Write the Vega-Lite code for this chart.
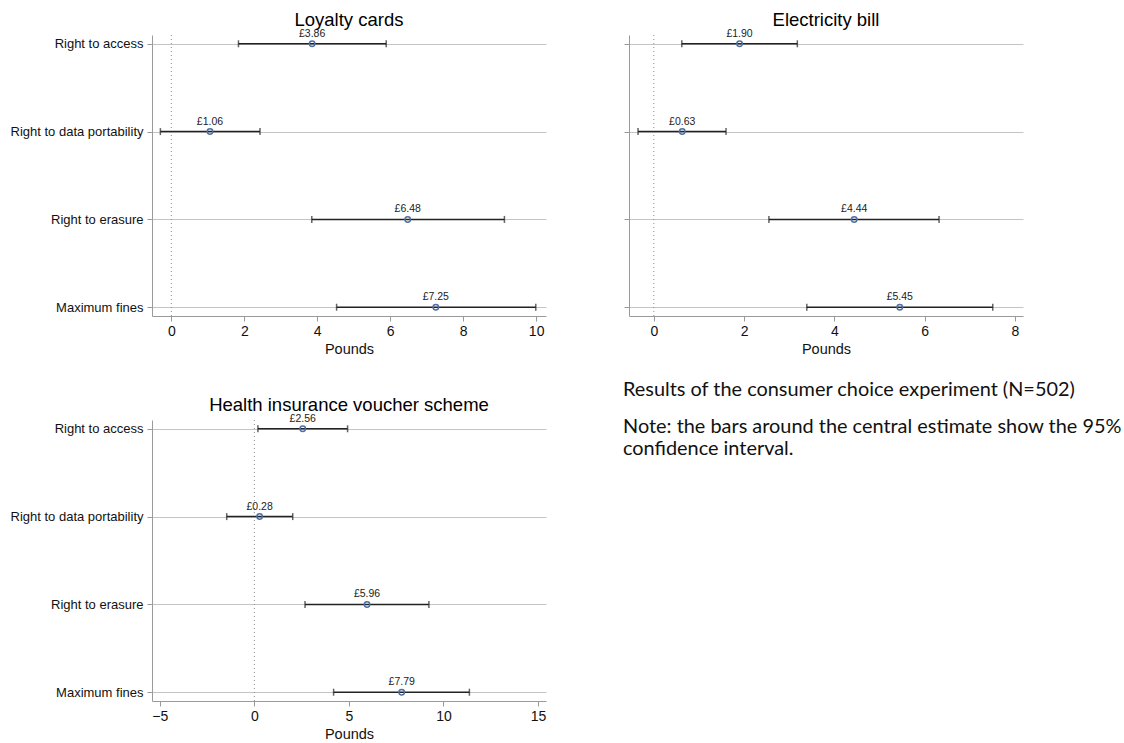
{
  "$schema": "https://vega.github.io/schema/vega-lite/v6.json",
  "background": "white",
  "padding": {"left": 10, "top": 10, "right": 0, "bottom": 0},
  "config": {
    "font": "Liberation Sans",
    "view": {"stroke": null},
    "locale": {"number": {"decimal": ".", "thousands": ",", "grouping": [3], "currency": ["£", ""]}},
    "title": {"fontSize": 18.5, "fontWeight": "normal", "color": "#000000", "offset": -0.5},
    "axis": {"domainColor": "#9a9a9a", "tickColor": "#9a9a9a", "labelColor": "#111111", "titleColor": "#111111", "tickSize": 5}
  },
  "datasets": {
    "est": [
      {"panel": "Loyalty cards", "attribute": "Right to access", "est": 3.86, "lo": 1.84, "hi": 5.89},
      {"panel": "Loyalty cards", "attribute": "Right to data portability", "est": 1.06, "lo": -0.30, "hi": 2.43},
      {"panel": "Loyalty cards", "attribute": "Right to erasure", "est": 6.48, "lo": 3.85, "hi": 9.13},
      {"panel": "Loyalty cards", "attribute": "Maximum fines", "est": 7.25, "lo": 4.53, "hi": 9.99},
      {"panel": "Electricity bill", "attribute": "Right to access", "est": 1.90, "lo": 0.62, "hi": 3.18},
      {"panel": "Electricity bill", "attribute": "Right to data portability", "est": 0.63, "lo": -0.35, "hi": 1.60},
      {"panel": "Electricity bill", "attribute": "Right to erasure", "est": 4.44, "lo": 2.55, "hi": 6.32},
      {"panel": "Electricity bill", "attribute": "Maximum fines", "est": 5.45, "lo": 3.39, "hi": 7.51},
      {"panel": "Health insurance voucher scheme", "attribute": "Right to access", "est": 2.56, "lo": 0.19, "hi": 4.93},
      {"panel": "Health insurance voucher scheme", "attribute": "Right to data portability", "est": 0.28, "lo": -1.46, "hi": 2.03},
      {"panel": "Health insurance voucher scheme", "attribute": "Right to erasure", "est": 5.96, "lo": 2.68, "hi": 9.23},
      {"panel": "Health insurance voucher scheme", "attribute": "Maximum fines", "est": 7.79, "lo": 4.19, "hi": 11.37}
    ],
    "notes": [
      {"para": 1, "text": "Results of the consumer choice experiment (N=502)"},
      {"para": 2, "text": "Note: the bars around the central estimate show the 95%\nconfidence interval."}
    ]
  },
  "bounds": "flush",
  "columns": 2,
  "spacing": {"row": 104, "column": 83},
  "concat": [
    {
      "width": 394, "height": 281,
      "title": "Loyalty cards",
      "data": {"name": "est"},
      "transform": [{"filter": "datum.panel === 'Loyalty cards'"}],
      "layer": [
        {
          "transform": [{"filter": "datum.attribute === 'Maximum fines'"}],
          "mark": {"type": "rule", "color": "#8c8c8c", "strokeDash": [1, 3], "strokeWidth": 1},
          "encoding": {"x": {"datum": 0, "type": "quantitative", "title": "Pounds", "scale": {"domain": [-0.53, 10.27], "nice": false, "zero": false}}}
        },
        {
          "mark": {"type": "rule", "color": "#222222", "strokeWidth": 1.5},
          "encoding": {
            "y": {"field": "attribute", "type": "nominal", "title": null, "sort": ["Right to access", "Right to data portability", "Right to erasure", "Maximum fines"], "scale": {"type": "point", "padding": 0.1},
                  "axis": {"labelFontSize": 13, "labelPadding": 4, "grid": true, "gridColor": "#c4c4c4"}},
            "x": {"field": "lo", "type": "quantitative", "title": "Pounds", "scale": {"domain": [-0.53, 10.27], "nice": false, "zero": false},
                  "axis": {"values": [0, 2, 4, 6, 8, 10], "labelFontSize": 14, "titleFontSize": 14.5, "titleFontWeight": "normal", "grid": false, "labelPadding": 3, "titlePadding": 4, "labelFlush": false}},
            "x2": {"field": "hi"}
          }
        },
        {
          "mark": {"type": "tick", "color": "#222222", "thickness": 1.5, "size": 7},
          "encoding": {
            "y": {"field": "attribute", "type": "nominal", "title": null, "sort": ["Right to access", "Right to data portability", "Right to erasure", "Maximum fines"], "scale": {"type": "point", "padding": 0.1}},
            "x": {"field": "lo", "type": "quantitative", "title": "Pounds", "scale": {"domain": [-0.53, 10.27], "nice": false, "zero": false}}
          }
        },
        {
          "mark": {"type": "tick", "color": "#222222", "thickness": 1.5, "size": 7},
          "encoding": {
            "y": {"field": "attribute", "type": "nominal", "title": null, "sort": ["Right to access", "Right to data portability", "Right to erasure", "Maximum fines"], "scale": {"type": "point", "padding": 0.1}},
            "x": {"field": "hi", "type": "quantitative", "title": "Pounds", "scale": {"domain": [-0.53, 10.27], "nice": false, "zero": false}}
          }
        },
        {
          "mark": {"type": "point", "shape": "circle", "filled": false, "stroke": "#4f6fa3", "strokeWidth": 1.5, "size": 30, "opacity": 1},
          "encoding": {
            "y": {"field": "attribute", "type": "nominal", "title": null, "sort": ["Right to access", "Right to data portability", "Right to erasure", "Maximum fines"], "scale": {"type": "point", "padding": 0.1}},
            "x": {"field": "est", "type": "quantitative", "title": "Pounds", "scale": {"domain": [-0.53, 10.27], "nice": false, "zero": false}}
          }
        },
        {
          "mark": {"type": "text", "fontSize": 10.5, "dy": -7, "baseline": "alphabetic", "color": "#222222"},
          "encoding": {
            "y": {"field": "attribute", "type": "nominal", "title": null, "sort": ["Right to access", "Right to data portability", "Right to erasure", "Maximum fines"], "scale": {"type": "point", "padding": 0.1}},
            "x": {"field": "est", "type": "quantitative", "title": "Pounds", "scale": {"domain": [-0.53, 10.27], "nice": false, "zero": false}},
            "text": {"field": "est", "type": "quantitative", "format": "$.2f"}
          }
        }
      ]
    },
    {
      "width": 394, "height": 281,
      "title": "Electricity bill",
      "data": {"name": "est"},
      "transform": [{"filter": "datum.panel === 'Electricity bill'"}],
      "layer": [
        {
          "transform": [{"filter": "datum.attribute === 'Maximum fines'"}],
          "mark": {"type": "rule", "color": "#8c8c8c", "strokeDash": [1, 3], "strokeWidth": 1},
          "encoding": {"x": {"datum": 0, "type": "quantitative", "title": "Pounds", "scale": {"domain": [-0.55, 8.18], "nice": false, "zero": false}}}
        },
        {
          "mark": {"type": "rule", "color": "#222222", "strokeWidth": 1.5},
          "encoding": {
            "y": {"field": "attribute", "type": "nominal", "title": null, "sort": ["Right to access", "Right to data portability", "Right to erasure", "Maximum fines"], "scale": {"type": "point", "padding": 0.1},
                  "axis": {"labels": false, "grid": true, "gridColor": "#c4c4c4"}},
            "x": {"field": "lo", "type": "quantitative", "title": "Pounds", "scale": {"domain": [-0.55, 8.18], "nice": false, "zero": false},
                  "axis": {"values": [0, 2, 4, 6, 8], "labelFontSize": 14, "titleFontSize": 14.5, "titleFontWeight": "normal", "grid": false, "labelPadding": 3, "titlePadding": 4, "labelFlush": false}},
            "x2": {"field": "hi"}
          }
        },
        {
          "mark": {"type": "tick", "color": "#222222", "thickness": 1.5, "size": 7},
          "encoding": {
            "y": {"field": "attribute", "type": "nominal", "title": null, "sort": ["Right to access", "Right to data portability", "Right to erasure", "Maximum fines"], "scale": {"type": "point", "padding": 0.1}},
            "x": {"field": "lo", "type": "quantitative", "title": "Pounds", "scale": {"domain": [-0.55, 8.18], "nice": false, "zero": false}}
          }
        },
        {
          "mark": {"type": "tick", "color": "#222222", "thickness": 1.5, "size": 7},
          "encoding": {
            "y": {"field": "attribute", "type": "nominal", "title": null, "sort": ["Right to access", "Right to data portability", "Right to erasure", "Maximum fines"], "scale": {"type": "point", "padding": 0.1}},
            "x": {"field": "hi", "type": "quantitative", "title": "Pounds", "scale": {"domain": [-0.55, 8.18], "nice": false, "zero": false}}
          }
        },
        {
          "mark": {"type": "point", "shape": "circle", "filled": false, "stroke": "#4f6fa3", "strokeWidth": 1.5, "size": 30, "opacity": 1},
          "encoding": {
            "y": {"field": "attribute", "type": "nominal", "title": null, "sort": ["Right to access", "Right to data portability", "Right to erasure", "Maximum fines"], "scale": {"type": "point", "padding": 0.1}},
            "x": {"field": "est", "type": "quantitative", "title": "Pounds", "scale": {"domain": [-0.55, 8.18], "nice": false, "zero": false}}
          }
        },
        {
          "mark": {"type": "text", "fontSize": 10.5, "dy": -7, "baseline": "alphabetic", "color": "#222222"},
          "encoding": {
            "y": {"field": "attribute", "type": "nominal", "title": null, "sort": ["Right to access", "Right to data portability", "Right to erasure", "Maximum fines"], "scale": {"type": "point", "padding": 0.1}},
            "x": {"field": "est", "type": "quantitative", "title": "Pounds", "scale": {"domain": [-0.55, 8.18], "nice": false, "zero": false}},
            "text": {"field": "est", "type": "quantitative", "format": "$.2f"}
          }
        }
      ]
    },
    {
      "width": 394, "height": 281,
      "title": "Health insurance voucher scheme",
      "data": {"name": "est"},
      "transform": [{"filter": "datum.panel === 'Health insurance voucher scheme'"}],
      "layer": [
        {
          "transform": [{"filter": "datum.attribute === 'Maximum fines'"}],
          "mark": {"type": "rule", "color": "#8c8c8c", "strokeDash": [1, 3], "strokeWidth": 1},
          "encoding": {"x": {"datum": 0, "type": "quantitative", "title": "Pounds", "scale": {"domain": [-5.41, 15.42], "nice": false, "zero": false}}}
        },
        {
          "mark": {"type": "rule", "color": "#222222", "strokeWidth": 1.5},
          "encoding": {
            "y": {"field": "attribute", "type": "nominal", "title": null, "sort": ["Right to access", "Right to data portability", "Right to erasure", "Maximum fines"], "scale": {"type": "point", "padding": 0.1},
                  "axis": {"labelFontSize": 13, "labelPadding": 4, "grid": true, "gridColor": "#c4c4c4"}},
            "x": {"field": "lo", "type": "quantitative", "title": "Pounds", "scale": {"domain": [-5.41, 15.42], "nice": false, "zero": false},
                  "axis": {"values": [-5, 0, 5, 10, 15], "labelFontSize": 14, "titleFontSize": 14.5, "titleFontWeight": "normal", "grid": false, "labelPadding": 3, "titlePadding": 4, "labelFlush": false}},
            "x2": {"field": "hi"}
          }
        },
        {
          "mark": {"type": "tick", "color": "#222222", "thickness": 1.5, "size": 7},
          "encoding": {
            "y": {"field": "attribute", "type": "nominal", "title": null, "sort": ["Right to access", "Right to data portability", "Right to erasure", "Maximum fines"], "scale": {"type": "point", "padding": 0.1}},
            "x": {"field": "lo", "type": "quantitative", "title": "Pounds", "scale": {"domain": [-5.41, 15.42], "nice": false, "zero": false}}
          }
        },
        {
          "mark": {"type": "tick", "color": "#222222", "thickness": 1.5, "size": 7},
          "encoding": {
            "y": {"field": "attribute", "type": "nominal", "title": null, "sort": ["Right to access", "Right to data portability", "Right to erasure", "Maximum fines"], "scale": {"type": "point", "padding": 0.1}},
            "x": {"field": "hi", "type": "quantitative", "title": "Pounds", "scale": {"domain": [-5.41, 15.42], "nice": false, "zero": false}}
          }
        },
        {
          "mark": {"type": "point", "shape": "circle", "filled": false, "stroke": "#4f6fa3", "strokeWidth": 1.5, "size": 30, "opacity": 1},
          "encoding": {
            "y": {"field": "attribute", "type": "nominal", "title": null, "sort": ["Right to access", "Right to data portability", "Right to erasure", "Maximum fines"], "scale": {"type": "point", "padding": 0.1}},
            "x": {"field": "est", "type": "quantitative", "title": "Pounds", "scale": {"domain": [-5.41, 15.42], "nice": false, "zero": false}}
          }
        },
        {
          "mark": {"type": "text", "fontSize": 10.5, "dy": -7, "baseline": "alphabetic", "color": "#222222"},
          "encoding": {
            "y": {"field": "attribute", "type": "nominal", "title": null, "sort": ["Right to access", "Right to data portability", "Right to erasure", "Maximum fines"], "scale": {"type": "point", "padding": 0.1}},
            "x": {"field": "est", "type": "quantitative", "title": "Pounds", "scale": {"domain": [-5.41, 15.42], "nice": false, "zero": false}},
            "text": {"field": "est", "type": "quantitative", "format": "$.2f"}
          }
        }
      ]
    },
    {
      "width": 480, "height": 37,
      "data": {"name": "notes"},
      "mark": {"type": "text", "font": "Lato", "fontSize": 19.9, "align": "left", "baseline": "alphabetic", "lineBreak": "\n", "lineHeight": 22, "dx": -6, "dy": -24.5, "color": "#111111"},
      "encoding": {
        "x": {"datum": 0, "type": "quantitative", "scale": {"domain": [0, 1]}, "axis": null},
        "y": {"field": "para", "type": "ordinal", "scale": {"type": "point", "padding": 0}, "axis": null},
        "text": {"field": "text"}
      }
    }
  ]
}
